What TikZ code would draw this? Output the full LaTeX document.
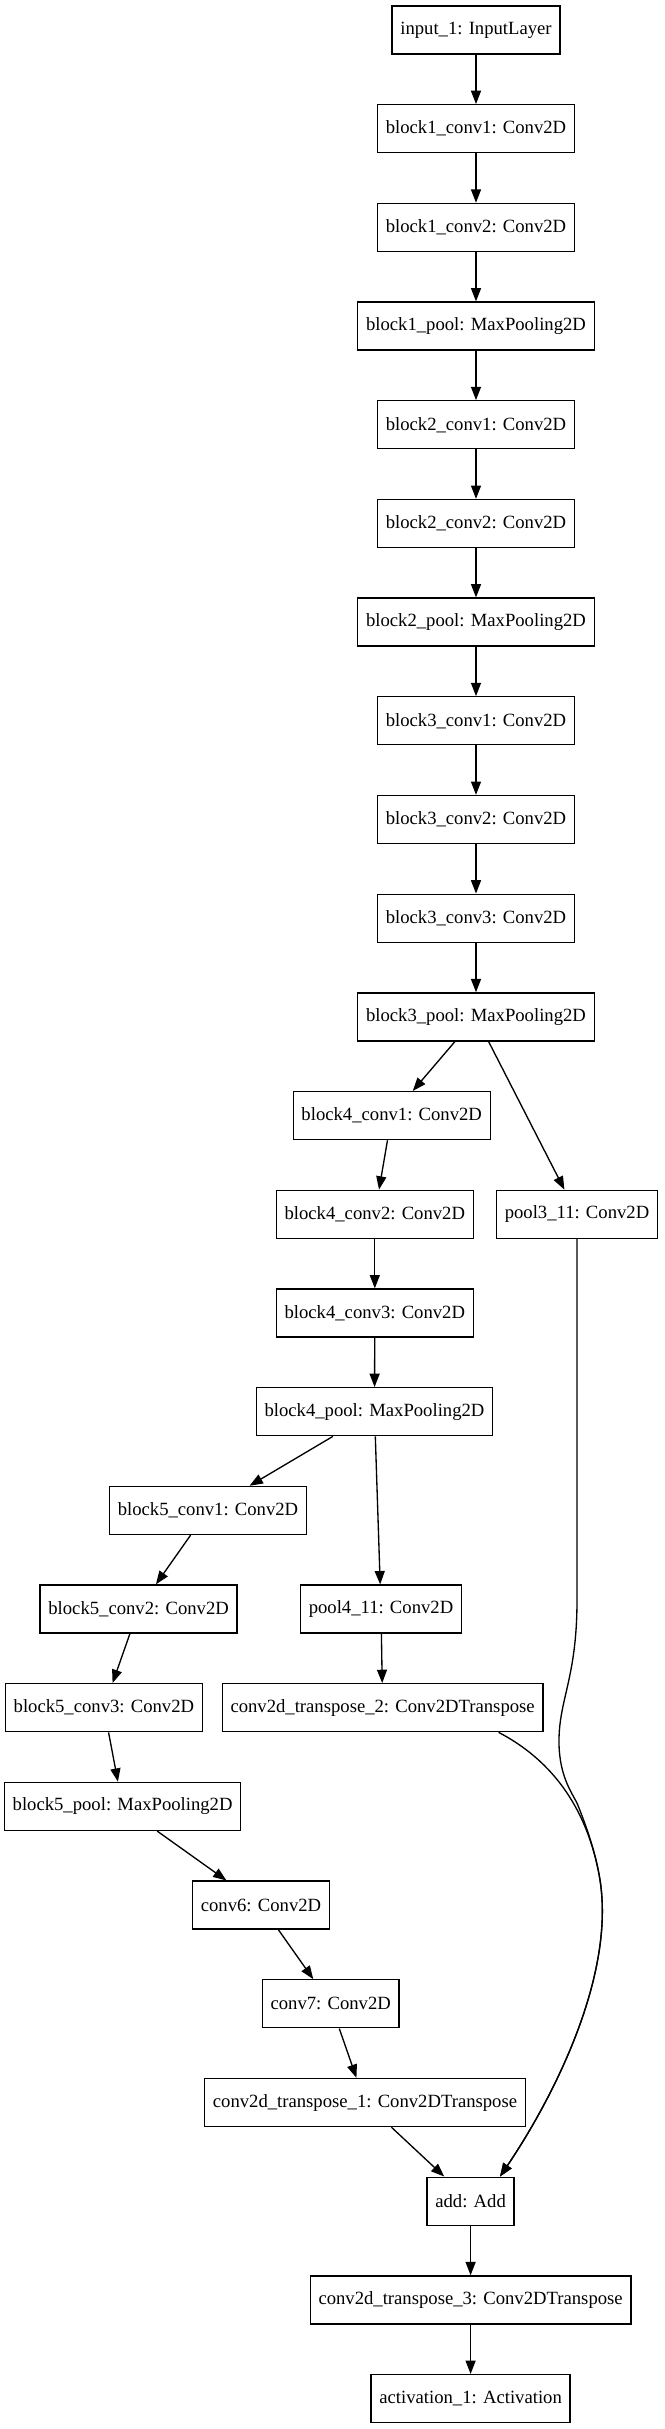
\documentclass[tikz,border=0pt]{standalone}
\usepackage{fontspec}
\setmainfont{Liberation Serif}
\usetikzlibrary{arrows.meta}

\begin{document}
\begin{tikzpicture}[x=0.75pt,y=-0.75pt,
  layer/.style={draw,line width=1pt,minimum height=36pt,inner xsep=6.2pt,inner ysep=0pt,font=\fontsize{14}{17}\selectfont},
  flow/.style={-{Triangle[length=10pt,width=7.5pt]},line width=1pt}]
\useasboundingbox (0,0) rectangle (664,2429);
%\draw[help lines] (0,0) grid (664,2429);
\node[layer] (input) at (476,30) {input\_1: InputLayer};
\node[layer] (b1c1) at (476,128.7) {block1\_conv1: Conv2D};
\node[layer] (b1c2) at (476,227.4) {block1\_conv2: Conv2D};
\node[layer] (b1pool) at (476,326.1) {block1\_pool: MaxPooling2D};
\node[layer] (b2c1) at (476,424.8) {block2\_conv1: Conv2D};
\node[layer] (b2c2) at (476,523.5) {block2\_conv2: Conv2D};
\node[layer] (b2pool) at (476,622.1) {block2\_pool: MaxPooling2D};
\node[layer] (b3c1) at (476,720.8) {block3\_conv1: Conv2D};
\node[layer] (b3c2) at (476,819.5) {block3\_conv2: Conv2D};
\node[layer] (b3c3) at (476,918.2) {block3\_conv3: Conv2D};
\node[layer] (b3pool) at (476,1016.9) {block3\_pool: MaxPooling2D};
\node[layer] (b4c1) at (391.7,1115.6) {block4\_conv1: Conv2D};
\node[layer] (b4c2) at (374.8,1214.3) {block4\_conv2: Conv2D};
\node[layer] (pool3) at (577,1214.3) {pool3\_11: Conv2D};
\node[layer] (b4c3) at (374.8,1313) {block4\_conv3: Conv2D};
\node[layer] (b4pool) at (374.5,1411.7) {block4\_pool: MaxPooling2D};
\node[layer] (b5c1) at (208,1510.4) {block5\_conv1: Conv2D};
\node[layer] (b5c2) at (138.6,1609) {block5\_conv2: Conv2D};
\node[layer] (pool4) at (381,1609) {pool4\_11: Conv2D};
\node[layer] (b5c3) at (103.9,1707.7) {block5\_conv3: Conv2D};
\node[layer] (ct2) at (382.6,1707.7) {conv2d\_transpose\_2: Conv2DTranspose};
\node[layer] (b5pool) at (122.6,1806.4) {block5\_pool: MaxPooling2D};
\node[layer] (conv6) at (261,1905.1) {conv6: Conv2D};
\node[layer] (conv7) at (330.7,2003.8) {conv7: Conv2D};
\node[layer] (ct1) at (365,2102.5) {conv2d\_transpose\_1: Conv2DTranspose};
\node[layer] (add) at (470.6,2201.2) {add: Add};
\node[layer] (ct3) at (470.6,2299.9) {conv2d\_transpose\_3: Conv2DTranspose};
\node[layer] (act) at (470.6,2398.6) {activation\_1: Activation};

\draw[flow] (input) -- (b1c1);
\draw[flow] (b1c1) -- (b1c2);
\draw[flow] (b1c2) -- (b1pool);
\draw[flow] (b1pool) -- (b2c1);
\draw[flow] (b2c1) -- (b2c2);
\draw[flow] (b2c2) -- (b2pool);
\draw[flow] (b2pool) -- (b3c1);
\draw[flow] (b3c1) -- (b3c2);
\draw[flow] (b3c2) -- (b3c3);
\draw[flow] (b3c3) -- (b3pool);
\draw[flow] (b3pool) -- (b4c1);
\draw[flow] (b3pool) -- (pool3);
\draw[flow] (b4c1) -- (b4c2);
\draw[flow] (b4c2) -- (b4c3);
\draw[flow] (b4c3) -- (b4pool);
\draw[flow] (b4pool) -- (b5c1);
\draw[flow] (b4pool) -- (pool4);
\draw[flow] (b5c1) -- (b5c2);
\draw[flow] (b5c2) -- (b5c3);
\draw[flow] (pool4) -- (ct2);
\draw[flow] (b5c3) -- (b5pool);
\draw[flow] (b5pool) -- (conv6);
\draw[flow] (conv6) -- (conv7);
\draw[flow] (conv7) -- (ct1);
\draw[flow] (ct1) -- (add);
% skip connections into add
\draw[flow] (pool3.south) -- (577,1600) .. controls (577,1680) and (558,1700) .. (559,1745) .. controls (560,1775) and (570,1790) .. (577,1803) .. controls (590,1835) and (597,1860) .. (600,1880) .. controls (615,1975) and (555,2095) .. (add.40);
\draw[flow] (ct2.-12.5) .. controls (561,1765) and (590,1820) .. (600,1880) .. controls (615,1975) and (555,2095) .. (add.40);
\draw[flow] (add) -- (ct3);
\draw[flow] (ct3) -- (act);
\end{tikzpicture}
\end{document}
